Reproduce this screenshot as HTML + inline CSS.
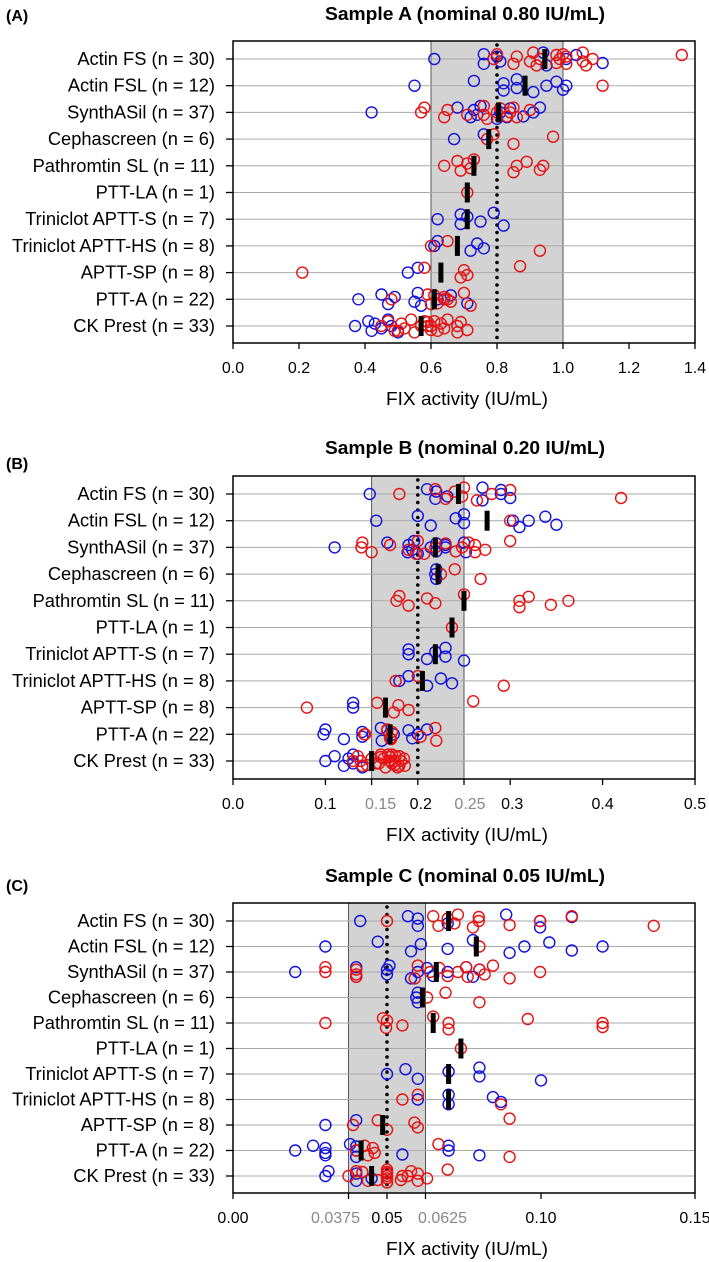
<!DOCTYPE html>
<html><head><meta charset="utf-8">
<style>
html,body{margin:0;padding:0;background:#fff;}
svg{display:block;font-family:"Liberation Sans",Arial,sans-serif;}
</style></head>
<body>
<svg id="chart" width="709" height="1262" viewBox="0 0 709 1262" xmlns="http://www.w3.org/2000/svg"></svg>
<script>
const categories = ["Actin FS (n = 30)","Actin FSL (n = 12)","SynthASil (n = 37)","Cephascreen (n = 6)","Pathromtin SL (n = 11)","PTT-LA (n = 1)","Triniclot APTT-S (n = 7)","Triniclot APTT-HS (n = 8)","APTT-SP (n = 8)","PTT-A (n = 22)","CK Prest (n = 33)"];

// Sample A
const blueA = [
 [0.61,0.76,0.76,0.80,0.81,0.94,0.95,1.01,1.04,1.12],
 [0.55,0.73,0.82,0.82,0.86,0.86,0.91,0.95,0.98,1.00,1.01],
 [0.42,0.68,0.72,0.73,0.74,0.75,0.80,0.81,0.84,0.88,0.91,0.93,0.83],
 [0.67,0.76],
 [],
 [],
 [0.62,0.69,0.69,0.71,0.75,0.79,0.82],
 [0.61,0.62,0.72,0.74,0.76],
 [0.53,0.56],
 [0.38,0.45,0.47,0.49,0.55,0.56,0.57,0.64,0.66,0.71,0.62],
 [0.37,0.41,0.42,0.43,0.45,0.47,0.50,0.48]
];
const redA = [
 [0.79,0.80,0.85,0.86,0.90,0.91,0.92,0.93,0.98,0.98,0.99,1.00,1.01,1.01,1.06,1.06,1.07,1.09,1.36],
 [1.12],
 [0.57,0.58,0.64,0.65,0.71,0.76,0.77,0.80,0.81,0.83,0.84,0.85,0.86,0.90,0.76],
 [0.77,0.79,0.85,0.97],
 [0.64,0.68,0.69,0.71,0.72,0.73,0.85,0.86,0.89,0.93,0.94],
 [0.71],
 [],
 [0.60,0.65,0.93],
 [0.21,0.58,0.69,0.70,0.71,0.87],
 [0.48,0.59,0.60,0.64,0.66,0.70,0.72,0.64,0.61,0.62,0.65],
 [0.45,0.47,0.49,0.51,0.52,0.54,0.55,0.57,0.59,0.60,0.60,0.61,0.62,0.63,0.64,0.65,0.68,0.68,0.69,0.71,0.59,0.58,0.50]
];
const medianA = [0.945,0.885,0.805,0.775,0.73,0.71,0.71,0.68,0.63,0.61,0.57];
const ticksA = [0,0.2,0.4,0.6,0.8,1.0,1.2,1.4];
const tickLabelsA = ["0.0","0.2","0.4","0.6","0.8","1.0","1.2","1.4"];

// Sample B
const blueB = [
 [0.148,0.21,0.219,0.22,0.232,0.27,0.27,0.29,0.29,0.30],
 [0.155,0.20,0.214,0.241,0.25,0.25,0.31,0.32,0.338,0.35,0.303],
 [0.11,0.167,0.189,0.19,0.194,0.196,0.20,0.214,0.22,0.22,0.23,0.25,0.252,0.23],
 [0.219,0.22,0.22],
 [],
 [],
 [0.19,0.19,0.21,0.219,0.23,0.23,0.25],
 [0.18,0.19,0.21,0.225,0.237],
 [0.13,0.13],
 [0.098,0.10,0.12,0.14,0.14,0.16,0.161,0.174,0.19,0.194,0.20,0.21],
 [0.10,0.11,0.12,0.125,0.13,0.13,0.14]
];
const redB = [
 [0.18,0.219,0.23,0.24,0.248,0.25,0.264,0.28,0.30,0.42],
 [0.30],
 [0.139,0.14,0.15,0.17,0.19,0.20,0.207,0.219,0.23,0.241,0.248,0.255,0.262,0.262,0.273,0.30,0.198],
 [0.225,0.24,0.268],
 [0.177,0.18,0.19,0.21,0.219,0.25,0.31,0.31,0.32,0.344,0.363],
 [0.237],
 [],
 [0.176,0.20,0.293],
 [0.08,0.156,0.174,0.179,0.19,0.26],
 [0.142,0.167,0.171,0.172,0.203,0.219,0.22,0.143,0.167,0.17],
 [0.13,0.135,0.14,0.15,0.155,0.16,0.165,0.17,0.17,0.175,0.175,0.18,0.18,0.185,0.172,0.168,0.178,0.182,0.16,0.145,0.138,0.176,0.186,0.163,0.158,0.172]
];
const medianB = [0.244,0.275,0.219,0.222,0.25,0.237,0.219,0.205,0.165,0.17,0.15];
const ticksB = [0,0.1,0.15,0.2,0.25,0.3,0.4,0.5];
const tickLabelsB = ["0.0","0.1","0.15","0.2","0.25","0.3","0.4","0.5"];
const tickGrayB = [false,false,true,false,true,false,false,false];

// Sample C
const blueC = [
 [0.0413,0.0568,0.06,0.06,0.0697,0.0887,0.0997,0.0997,0.110],
 [0.03,0.047,0.0578,0.061,0.0697,0.0779,0.0898,0.0946,0.1027,0.110,0.12],
 [0.0202,0.04,0.04,0.05,0.05,0.0508,0.0578,0.06,0.063,0.065,0.0697,0.0757,0.0779,0.08],
 [0.0595,0.06,0.06],
 [],
 [],
 [0.05,0.056,0.06,0.07,0.08,0.08,0.10],
 [0.06,0.07,0.07,0.0844,0.087],
 [0.03,0.04],
 [0.0202,0.026,0.03,0.03,0.03,0.038,0.04,0.04,0.04,0.055,0.07,0.07,0.08],
 [0.03,0.031,0.04,0.04,0.045]
];
const redC = [
 [0.05,0.065,0.0667,0.0697,0.0719,0.073,0.0779,0.0798,0.0798,0.0898,0.0997,0.110,0.1366],
 [0.08],
 [0.03,0.03,0.04,0.04,0.04,0.06,0.059,0.064,0.067,0.0697,0.073,0.0757,0.0762,0.080,0.0817,0.0844,0.0898,0.0997],
 [0.063,0.069,0.08],
 [0.03,0.0487,0.0497,0.05,0.055,0.065,0.07,0.07,0.0957,0.12,0.12],
 [0.074],
 [],
 [0.055,0.06,0.087],
 [0.039,0.047,0.05,0.0589,0.06,0.0898],
 [0.04,0.0427,0.0438,0.0454,0.046,0.0667,0.0898],
 [0.0375,0.04,0.0438,0.05,0.05,0.05,0.05,0.05,0.05,0.0545,0.0567,0.0578,0.06,0.06,0.063,0.0697,0.05,0.055,0.042,0.047]
];
const medianC = [0.07,0.079,0.066,0.0615,0.065,0.074,0.07,0.07,0.0486,0.0416,0.045];
const ticksC = [0,0.0375,0.05,0.0625,0.10,0.15];
const tickLabelsC = ["0.00","0.0375","0.05","0.0625","0.10","0.15"];
const tickGrayC = [false,true,false,true,false,false];

const svg = document.getElementById('chart');
const NS = 'http://www.w3.org/2000/svg';
function mk(tag, attrs, parent){
  const e = document.createElementNS(NS, tag);
  for (const k in attrs) e.setAttribute(k, attrs[k]);
  (parent||svg).appendChild(e);
  return e;
}
const jit = [0,-6,6,-3,3,-8,8,0,-5,5];

function panel(cfg){
  const g = mk('g',{});
  
  
  const L=233, R=695, T=cfg.top, B=cfg.bottom;
  const xs = v => L + (v - 0) / cfg.max * (R - L);
  const ys = i => cfg.row0 + i * cfg.rowStep;

  const lt = mk('text',{x:6,y:cfg.letterY,'font-size':16,'font-weight':'bold'},g); lt.textContent = cfg.letter;
  
  
  const tt = mk('text',{x:465,y:cfg.titleY,'font-size':18,'font-weight':'bold','text-anchor':'middle',textLength:280,lengthAdjust:'spacingAndGlyphs'},g); tt.textContent = cfg.title;
  
  

  const band = mk('rect',{x:xs(cfg.band[0]),y:T,width:xs(cfg.band[1])-xs(cfg.band[0]),height:B-T,fill:'#d3d3d3',stroke:'#555','stroke-width':1},g);
  
  

  categories.forEach((c,i)=>{
    const y = ys(i);
    const gl = mk('line',{x1:L,x2:R,y1:y,y2:y,stroke:'#aaa','stroke-width':1},g);
    
    
    mk('line',{x1:L-7,x2:L,y1:y,y2:y,stroke:'#000','stroke-width':1.3},g);
    const t = mk('text',{x:L-18,y:y+6,'font-size':18.3,'text-anchor':'end'},g); t.textContent = c;
    
    
  });

  const nom = mk('line',{x1:xs(cfg.nominal),x2:xs(cfg.nominal),y1:T+4,y2:B-2,stroke:'#000','stroke-width':3.6,'stroke-dasharray':'0,7.5','stroke-linecap':'round'},g);
  
  

  function pts(arr, color, nm){
    arr.forEach((row,i)=>{
      row.forEach((v,k)=>{
        const c = mk('circle',{cx:xs(v),cy:ys(i)+jit[k%jit.length]*0.8,r:5.5,fill:'none',stroke:color,'stroke-width':1.4},g);
        
        
      });
    });
  }
  pts(cfg.blue,'#1010e0','blue-point');
  pts(cfg.red,'#e81010','red-point');

  cfg.median.forEach((v,i)=>{
    const m = mk('rect',{x:xs(v)-2.5,y:ys(i)-10,width:5,height:20,fill:'#000'},g);
    
    
  });

  const frame = mk('rect',{x:L,y:T,width:R-L,height:B-T,fill:'none',stroke:'#000','stroke-width':1.5},g);
  
  

  cfg.ticks.forEach((v,k)=>{
    const x = xs(v);
    mk('line',{x1:x,x2:x,y1:B,y2:B+6,stroke:'#000','stroke-width':1.3},g);
    const dx = cfg.labelShift ? cfg.labelShift[k] : 0;
    const t = mk('text',{x:x+dx,y:B+30,'font-size':16,'text-anchor':'middle',fill:(cfg.gray&&cfg.gray[k])?'#888':'#000'},g);
    t.textContent = cfg.labels[k];
    
    
  });
  const xl = mk('text',{x:467,y:B+62,'font-size':18,'text-anchor':'middle',textLength:162,lengthAdjust:'spacingAndGlyphs'},g); xl.textContent = 'FIX activity (IU/mL)';
  
  
}

panel({name:'panel-a',letter:'(A)',title:'Sample A (nominal 0.80 IU/mL)',titleY:20,letterY:21,top:41,bottom:343,row0:59,rowStep:26.7,max:1.4,band:[0.6,1.0],nominal:0.8,blue:blueA,red:redA,median:medianA,ticks:ticksA,labels:tickLabelsA});
panel({name:'panel-b',letter:'(B)',title:'Sample B (nominal 0.20 IU/mL)',titleY:454,letterY:469,top:476,bottom:779,row0:494,rowStep:26.7,max:0.5,band:[0.15,0.25],nominal:0.2,blue:blueB,red:redB,median:medianB,ticks:ticksB,labels:tickLabelsB,gray:tickGrayB,labelShift:[0,0,9,3,6,2,0,0]});
panel({name:'panel-c',letter:'(C)',title:'Sample C (nominal 0.05 IU/mL)',titleY:882,letterY:891,top:903,bottom:1193,row0:921,rowStep:25.5,max:0.15,band:[0.0375,0.0625],nominal:0.05,blue:blueC,red:redC,median:medianC,ticks:ticksC,labels:tickLabelsC,gray:tickGrayC,labelShift:[0,-13,0,17,0,0]});
</script>
</body></html>
